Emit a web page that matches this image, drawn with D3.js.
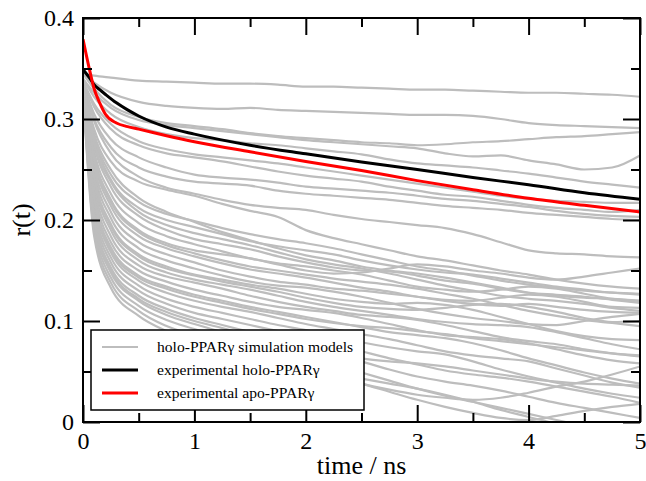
<!DOCTYPE html>
<html>
<head>
<meta charset="utf-8">
<script src="https://cdn.jsdelivr.net/npm/d3@7"></script>
<style>
  body { margin: 0; background: #fff; }
  text { font-family: "Liberation Serif", "Times New Roman", serif; }
</style>
</head>
<body>
<svg id="chart" width="646" height="481"></svg>
<script>
// time grid of the simulation traces (ns)
const simTimes = [0, 0.1, 0.25, 0.5, 0.75, 1, 1.25, 1.5, 1.75, 2, 2.25, 2.5, 2.75, 3, 3.25, 3.5, 3.75, 4, 4.25, 4.5, 4.75, 5];

// holo-PPARγ simulation models, r(t) at simTimes
const simModels = [
  [.345,.343,.341,.338,.337,.336,.335,.335,.334,.332,.332,.331,.330,.329,.329,.328,.327,.326,.326,.325,.324,.322],
  [.345,.336,.326,.317,.313,.311,.310,.311,.309,.308,.307,.306,.305,.304,.304,.303,.300,.296,.294,.293,.292,.291],
  [.345,.330,.314,.302,.296,.293,.290,.286,.283,.281,.279,.277,.276,.274,.275,.277,.278,.280,.282,.283,.285,.287],
  [.340,.326,.311,.299,.294,.291,.288,.285,.282,.279,.277,.275,.273,.271,.266,.263,.264,.259,.255,.250,.252,.264],
  [.340,.322,.305,.292,.285,.281,.279,.276,.274,.271,.268,.265,.260,.256,.254,.252,.249,.246,.242,.238,.235,.232],
  [.338,.315,.295,.278,.270,.265,.262,.259,.256,.252,.248,.244,.240,.236,.232,.228,.224,.221,.219,.218,.217,.217],
  [.338,.312,.290,.274,.266,.262,.258,.253,.248,.244,.241,.238,.233,.229,.225,.223,.219,.215,.212,.210,.208,.210],
  [.336,.305,.280,.262,.252,.245,.242,.240,.237,.233,.231,.229,.227,.224,.221,.219,.216,.213,.209,.206,.204,.203],
  [.336,.300,.272,.252,.243,.238,.236,.234,.229,.226,.224,.222,.220,.217,.214,.212,.210,.207,.205,.203,.201,.200],
  [.336,.298,.266,.243,.232,.226,.220,.215,.212,.210,.205,.201,.198,.195,.192,.186,.178,.170,.167,.166,.164,.163],
  [.335,.290,.258,.238,.230,.224,.216,.209,.203,.190,.182,.176,.170,.164,.160,.155,.150,.146,.141,.137,.134,.132],
  [.335,.285,.250,.222,.208,.198,.188,.180,.172,.165,.160,.154,.150,.147,.143,.138,.133,.128,.125,.123,.122,.120],
  [.335,.280,.240,.212,.200,.193,.186,.179,.174,.170,.166,.160,.155,.151,.148,.146,.142,.138,.134,.131,.128,.127],
  [.334,.274,.233,.204,.190,.181,.176,.171,.164,.158,.153,.150,.149,.145,.140,.137,.132,.128,.126,.124,.121,.118],
  [.334,.268,.226,.197,.184,.176,.169,.162,.157,.154,.150,.146,.140,.134,.131,.129,.131,.134,.132,.127,.122,.120],
  [.333,.264,.220,.190,.177,.170,.166,.162,.156,.150,.147,.148,.152,.156,.154,.150,.147,.143,.141,.144,.148,.152],
  [.333,.259,.214,.184,.172,.164,.157,.151,.147,.143,.138,.133,.129,.124,.120,.117,.115,.117,.114,.111,.109,.108],
  [.332,.254,.208,.178,.166,.158,.150,.144,.139,.136,.132,.130,.127,.124,.121,.120,.123,.126,.124,.119,.114,.113],
  [.332,.249,.202,.172,.160,.152,.145,.139,.135,.133,.129,.124,.118,.112,.107,.103,.100,.097,.096,.100,.104,.107],
  [.331,.244,.196,.166,.154,.146,.141,.136,.132,.127,.122,.119,.117,.118,.116,.111,.104,.097,.090,.085,.082,.081],
  [.331,.239,.190,.160,.148,.141,.136,.131,.125,.119,.114,.110,.106,.102,.099,.097,.096,.094,.089,.083,.077,.072],
  [.330,.234,.184,.155,.144,.138,.132,.125,.119,.114,.110,.106,.104,.101,.096,.090,.084,.080,.077,.072,.068,.065],
  [.330,.229,.178,.150,.139,.131,.125,.119,.114,.111,.108,.103,.097,.091,.086,.084,.082,.078,.072,.066,.061,.058],
  [.329,.224,.173,.145,.134,.126,.120,.114,.109,.104,.099,.094,.089,.086,.083,.078,.071,.063,.056,.049,.043,.038],
  [.329,.219,.168,.140,.128,.120,.114,.109,.103,.097,.092,.087,.082,.076,.070,.066,.063,.060,.053,.046,.039,.034],
  [.328,.214,.163,.135,.122,.114,.108,.102,.096,.091,.085,.079,.074,.070,.067,.060,.052,.045,.039,.033,.028,.024],
  [.328,.209,.158,.130,.117,.108,.102,.096,.090,.084,.077,.070,.063,.057,.051,.047,.044,.040,.035,.030,.025,.019],
  [.327,.204,.153,.125,.112,.103,.096,.089,.082,.075,.068,.060,.052,.045,.040,.036,.031,.025,.019,.014,.009,.004],
  [.327,.199,.148,.120,.106,.097,.089,.081,.073,.065,.057,.049,.041,.033,.026,.020,.014,.008,.002,-.004,-.010,-.015],
  [.326,.194,.143,.115,.101,.092,.083,.074,.065,.056,.047,.038,.030,.022,.015,.009,.004,.002,.006,.011,.015,.018],
  [.326,.189,.138,.110,.095,.086,.078,.070,.062,.054,.046,.038,.032,.027,.024,.022,.024,.029,.035,.040,.047,.055],
  [.325,.184,.133,.105,.090,.080,.072,.065,.059,.053,.048,.043,.038,.033,.027,.020,.012,.005,-.002,-.010,-.016,-.022],
  [.335,.282,.245,.218,.206,.199,.192,.186,.181,.177,.172,.166,.160,.154,.150,.145,.140,.136,.133,.130,.128,.126],
  [.334,.276,.238,.208,.195,.187,.181,.175,.168,.161,.156,.152,.147,.141,.135,.130,.125,.122,.120,.117,.113,.110],
  [.333,.262,.218,.188,.175,.167,.160,.154,.150,.146,.142,.139,.136,.132,.127,.122,.116,.110,.105,.101,.098,.095],
  [.331,.243,.194,.164,.152,.145,.139,.134,.129,.123,.118,.114,.112,.111,.113,.116,.117,.114,.109,.103,.099,.100],
  [.329,.222,.171,.143,.132,.124,.118,.112,.107,.102,.098,.095,.093,.090,.087,.083,.080,.077,.074,.071,.068,.066],
  [.327,.202,.150,.122,.109,.100,.093,.086,.080,.074,.068,.063,.060,.058,.055,.051,.047,.043,.040,.038,.037,.036]
];

// experimental anisotropy decays
const expTimes = [0, 0.05, 0.1, 0.15, 0.2, 0.3, 0.4, 0.5, 0.75, 1, 1.5, 2, 2.5, 3, 3.5, 4, 4.5, 5];
const holoExp = [.349, .342, .334, .329, .3245, .316, .309, .303, .292, .285, .274, .2655, .2575, .250, .242, .235, .227, .2205];
const apoExp  = [.379, .353, .330, .316, .305, .296, .2925, .290, .2835, .2775, .2675, .258, .249, .239, .230, .2215, .2145, .208];

const xMajor = [0, 1, 2, 3, 4, 5];
const xMinor = [0.5, 1.5, 2.5, 3.5, 4.5];
const yMajor = [0, 0.1, 0.2, 0.3, 0.4];
const yMinor = [0.05, 0.15, 0.25, 0.35];

const legendItems = [
  { label: "holo-PPARγ simulation models", color: "#bdbdbd", width: 2 },
  { label: "experimental holo-PPARγ", color: "#000", width: 3 },
  { label: "experimental apo-PPARγ", color: "#ff0000", width: 3 }
];

const serif = '"Liberation Serif", "Times New Roman", serif';
const svg = d3.select("#chart");
const margin = { top: 18, right: 6, bottom: 59, left: 83 };
const width = 646 - margin.left - margin.right;
const height = 481 - margin.top - margin.bottom;

const g = svg.append("g").attr("transform", `translate(${margin.left},${margin.top})`);

const x = d3.scaleLinear().domain([0, 5]).range([0, width]);
const y = d3.scaleLinear().domain([0, 0.4]).range([height, 0]);

g.append("clipPath").attr("id", "plot-clip")
  .append("rect").attr("width", width).attr("height", height);

const plot = g.append("g").attr("clip-path", "url(#plot-clip)");

const simLine = d3.line()
  .x((d, i) => x(simTimes[i]))
  .y(d => y(d))
  .curve(d3.curveMonotoneX);

plot.selectAll("path.sim")
  .data(simModels)
  .join("path")
  .attr("class", "sim")
  .attr("d", simLine)
  .attr("fill", "none")
  .attr("stroke", "#bdbdbd")
  .attr("stroke-width", 2.2)
  .attr("stroke-linejoin", "round");

const expLine = d3.line()
  .x((d, i) => x(expTimes[i]))
  .y(d => y(d))
  .curve(d3.curveMonotoneX);

plot.append("path").datum(holoExp)
  .attr("d", expLine).attr("fill", "none")
  .attr("stroke", "#000").attr("stroke-width", 3);

plot.append("path").datum(apoExp)
  .attr("d", expLine).attr("fill", "none")
  .attr("stroke", "#ff0000").attr("stroke-width", 3);

// axes: ticks point inward on all four sides
const fmtY = d => d === 0 ? "0" : d3.format(".1f")(d);

const styleAxis = sel => {
  sel.attr("font-family", serif).attr("font-size", 24);
  sel.select(".domain").remove();
  sel.selectAll("line").attr("stroke", "#000").attr("stroke-width", 2);
  sel.selectAll("text").attr("fill", "#000");
};

g.append("g").attr("transform", `translate(0,${height})`)
  .call(d3.axisBottom(x).tickValues(xMajor).tickSize(-17).tickPadding(10).tickFormat(d3.format("d")))
  .call(styleAxis);
g.append("g").attr("transform", `translate(0,${height})`)
  .call(d3.axisBottom(x).tickValues(xMinor).tickSize(-9).tickFormat(""))
  .call(styleAxis);
g.append("g")
  .call(d3.axisTop(x).tickValues(xMajor).tickSize(-17).tickFormat(""))
  .call(styleAxis);
g.append("g")
  .call(d3.axisTop(x).tickValues(xMinor).tickSize(-9).tickFormat(""))
  .call(styleAxis);

g.append("g")
  .call(d3.axisLeft(y).tickValues(yMajor).tickSize(-17).tickPadding(9).tickFormat(fmtY))
  .call(styleAxis);
g.append("g")
  .call(d3.axisLeft(y).tickValues(yMinor).tickSize(-9).tickFormat(""))
  .call(styleAxis);
g.append("g").attr("transform", `translate(${width},0)`)
  .call(d3.axisRight(y).tickValues(yMajor).tickSize(-17).tickFormat(""))
  .call(styleAxis);
g.append("g").attr("transform", `translate(${width},0)`)
  .call(d3.axisRight(y).tickValues(yMinor).tickSize(-9).tickFormat(""))
  .call(styleAxis);

// frame
g.append("rect")
  .attr("width", width).attr("height", height)
  .attr("fill", "none").attr("stroke", "#000").attr("stroke-width", 2);

// axis titles
g.append("text")
  .attr("x", width / 2).attr("y", height + 52)
  .attr("text-anchor", "middle")
  .style("font-size", "26px")
  .text("time / ns");

g.append("text")
  .attr("transform", `translate(${30 - margin.left},${height / 2}) rotate(-90)`)
  .attr("text-anchor", "middle")
  .style("font-size", "26px")
  .text("r(t)");

// legend
const legend = g.append("g").attr("transform", `translate(${91 - margin.left},${330 - margin.top})`);
legend.append("rect")
  .attr("width", 273).attr("height", 80)
  .attr("fill", "#fff").attr("stroke", "#000").attr("stroke-width", 1.5);

const rows = legend.selectAll("g.item")
  .data(legendItems)
  .join("g")
  .attr("class", "item")
  .attr("transform", (d, i) => `translate(0,${17 + i * 23})`);

rows.append("line")
  .attr("x1", 11).attr("x2", 47)
  .attr("stroke", d => d.color)
  .attr("stroke-width", d => d.width);

rows.append("text")
  .attr("x", 66).attr("dy", "0.32em")
  .style("font-size", "15.6px")
  .text(d => d.label);
</script>
</body>
</html>
